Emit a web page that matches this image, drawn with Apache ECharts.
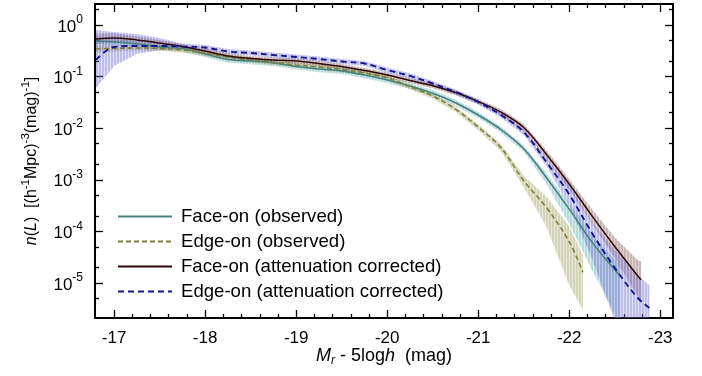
<!DOCTYPE html>
<html>
<head>
<meta charset="utf-8">
<script src="https://cdn.jsdelivr.net/npm/echarts@6/dist/echarts.min.js"></script>
<style>
  html, body { margin: 0; padding: 0; background: #fff; }
  #chart { width: 702px; height: 376px; }
</style>
</head>
<body>
<div id="chart"></div>
<script>
// r-band luminosity function, face-on vs edge-on galaxies, observed and
// attenuation corrected, each with its uncertainty band.

// magnitude grid shared by the first part of every curve
const magsCommon = [-16.8, -17.0, -17.25, -17.5, -17.75, -18.0, -18.25, -18.5, -18.75, -19.0,
  -19.25, -19.5, -19.75, -20.0, -20.25, -20.5, -20.75, -21.0, -21.25, -21.5, -21.75, -22.0];

// Face-on (observed)
const magFaceObs = magsCommon.concat([-22.25, -22.5, -22.56]);
const nFaceObs  = [0.490, 0.468, 0.429, 0.375, 0.351, 0.274, 0.214, 0.200, 0.184, 0.157, 0.140, 0.129, 0.107,
  0.0859, 0.0658, 0.0475, 0.0312, 0.0180, 0.0094, 0.0040, 0.0011, 2.7e-4, 6.2e-5, 1.8e-5, 1.38e-5];
const hiFaceObs = [0.576, 0.550, 0.492, 0.430, 0.403, 0.315, 0.246, 0.230, 0.211, 0.180, 0.161, 0.148, 0.123,
  0.0986, 0.0755, 0.0545, 0.0358, 0.0207, 0.0108, 0.0046, 1.32e-3, 3.55e-4, 8.9e-5, 2.8e-5, 2.24e-5];
const loFaceObs = [0.417, 0.398, 0.374, 0.327, 0.306, 0.239, 0.186, 0.174, 0.160, 0.137, 0.122, 0.112, 0.0932,
  0.0748, 0.0573, 0.0414, 0.0272, 0.0157, 0.0082, 0.00348, 8.3e-4, 1.41e-4, 1.78e-5, 2.5e-6, 1.0e-6];

// Edge-on (observed)
const magEdgeObs = magsCommon.concat([-22.15]);
const nEdgeObs  = [0.343, 0.351, 0.358, 0.351, 0.328, 0.281, 0.240, 0.210, 0.188, 0.168, 0.153, 0.137, 0.117,
  0.094, 0.0636, 0.042, 0.0235, 0.0105, 0.0042, 9.6e-4, 2.9e-4, 6.3e-5, 1.62e-5];
const hiEdgeObs = [0.403, 0.404, 0.402, 0.394, 0.368, 0.315, 0.269, 0.236, 0.211, 0.189, 0.172, 0.154, 0.131,
  0.105, 0.0714, 0.0471, 0.0264, 0.0121, 0.0049, 1.2e-3, 4.7e-4, 1.26e-4, 3.5e-5];
const loEdgeObs = [0.292, 0.305, 0.319, 0.313, 0.292, 0.250, 0.214, 0.187, 0.168, 0.150, 0.136, 0.122, 0.104,
  0.0838, 0.0567, 0.0374, 0.0209, 0.0091, 0.0036, 7.2e-4, 1.23e-4, 9.1e-6, 3.0e-6];

// Face-on (attenuation corrected)
const magFaceCor = magsCommon.concat([-22.25, -22.5, -22.75, -22.79]);
const nFaceCor  = [0.536, 0.560, 0.513, 0.448, 0.383, 0.313, 0.251, 0.224, 0.210, 0.200, 0.179, 0.157, 0.131,
  0.107, 0.0839, 0.0664, 0.049, 0.0328, 0.0204, 0.0103, 0.0031, 8.3e-4, 2.0e-4, 5.1e-5, 1.4e-5, 1.15e-5];
const hiFaceCor = [0.675, 0.689, 0.603, 0.514, 0.430, 0.351, 0.282, 0.251, 0.236, 0.224, 0.201, 0.176, 0.147,
  0.120, 0.0941, 0.0745, 0.0550, 0.0368, 0.0234, 0.0121, 0.00373, 1.04e-3, 2.7e-4, 7.7e-5, 2.8e-5, 2.6e-5];
const loFaceCor = [0.426, 0.455, 0.437, 0.390, 0.341, 0.279, 0.224, 0.200, 0.187, 0.178, 0.160, 0.140, 0.117,
  0.0954, 0.0748, 0.0592, 0.0437, 0.0292, 0.0178, 0.00877, 0.00252, 6.4e-4, 1.42e-4, 3.07e-5, 5.6e-6, 4.1e-6];

// Edge-on (attenuation corrected)
const magEdgeCor = magsCommon.concat([-22.25, -22.5, -22.75, -22.88]);
const nEdgeCor  = [0.210, 0.375, 0.392, 0.392, 0.383, 0.366, 0.306, 0.286, 0.262, 0.240, 0.219, 0.196, 0.179,
  0.134, 0.103, 0.0735, 0.0504, 0.0322, 0.0180, 0.00843, 0.0022, 5.2e-4, 9.3e-5, 1.97e-5, 5.2e-6, 3.3e-6];
const hiEdgeCor = [0.80, 0.73, 0.67, 0.56, 0.44, 0.41, 0.343, 0.321, 0.294, 0.269, 0.246, 0.220, 0.201,
  0.150, 0.116, 0.0825, 0.0565, 0.0361, 0.0202, 0.00967, 0.00263, 7.9e-4, 1.51e-4, 4.4e-5, 1.41e-5, 9.1e-6];
const loEdgeCor = [0.060, 0.160, 0.274, 0.328, 0.335, 0.326, 0.273, 0.255, 0.234, 0.214, 0.195, 0.175, 0.160,
  0.119, 0.0918, 0.0655, 0.0449, 0.0287, 0.0160, 0.00735, 0.00183, 3.2e-4, 3.0e-5, 1.9e-6, 3e-7, 1e-7];

// axis ranges and ticks
const X_MIN = -23.14, X_MAX = -16.79;
const Y_MIN = 2.1e-6, Y_MAX = 2.55;
const magMajorTicks = [-17, -18, -19, -20, -21, -22, -23];
const magMinorTicks = [-17.2, -17.4, -17.6, -17.8, -18.2, -18.4, -18.6, -18.8, -19.2, -19.4, -19.6, -19.8,
  -20.2, -20.4, -20.6, -20.8, -21.2, -21.4, -21.6, -21.8, -22.2, -22.4, -22.6, -22.8];
const densMajorTicks = [1e-5, 1e-4, 1e-3, 1e-2, 1e-1, 1];
const densMinorTicks = [5e-6, 2e-5, 5e-5, 2e-4, 5e-4, 2e-3, 5e-3, 0.02, 0.05, 0.2, 0.5, 2];

const seriesNames = ['Face-on (observed)', 'Edge-on (observed)',
  'Face-on (attenuation corrected)', 'Edge-on (attenuation corrected)'];

const FONT = '"Liberation Sans", Arial, Helvetica, sans-serif';

function zip2(xs, ys) { return xs.map((x, i) => [x, ys[i]]); }
function zip3(xs, lo, hi) { return xs.map((x, i) => [x, lo[i], hi[i]]); }

// fill with thin vertical light stripes, like a dense run of error bars
function stripedFill(rgb, alpha) {
  const c = document.createElement('canvas');
  c.width = 3; c.height = 4;
  const g = c.getContext('2d');
  g.fillStyle = 'rgba(' + rgb + ',' + alpha + ')';
  g.fillRect(0, 0, 2, 4);
  g.fillStyle = 'rgba(' + rgb + ',' + (alpha * 0.55) + ')';
  g.fillRect(2, 0, 1, 4);
  return { image: c, repeat: 'repeat' };
}

function magAxis(position, ticks, len, withLabels) {
  const ax = {
    type: 'value', position: position, min: X_MIN, max: X_MAX, inverse: true,
    axisLine: { show: len > 5, onZero: false, lineStyle: { color: '#000', width: 2 } },
    axisTick: { show: true, inside: true, length: len, customValues: ticks,
      lineStyle: { color: '#000', width: 1.3 } },
    axisLabel: { show: false },
    splitLine: { show: false }
  };
  if (withLabels) {
    ax.axisLabel = { show: true, customValues: magMajorTicks, margin: 12, color: '#000',
      fontSize: 17, fontFamily: FONT, formatter: v => String(Math.round(v)) };
    ax.name = '{i|M}{sub|r}{t| - 5log}{i|h}{t|  (mag)}';
    ax.nameLocation = 'middle';
    ax.nameGap = 27;
    ax.nameMoveOverlap = false;
    ax.nameTextStyle = { color: '#000', fontFamily: FONT, rich: {
      i: { fontStyle: 'italic', fontSize: 18, fontFamily: FONT, color: '#000' },
      sub: { fontStyle: 'italic', fontSize: 12, fontFamily: FONT, color: '#000', padding: [10, 0, 0, 0] },
      t: { fontSize: 18, fontFamily: FONT, color: '#000' }
    } };
  }
  return ax;
}

function densAxis(position, ticks, len, withLabels) {
  const ax = {
    type: 'log', logBase: 10, position: position, min: Y_MIN, max: Y_MAX,
    axisLine: { show: len > 5, onZero: false, lineStyle: { color: '#000', width: 2 } },
    axisTick: { show: true, inside: true, length: len, customValues: ticks,
      lineStyle: { color: '#000', width: 1.3 } },
    axisLabel: { show: false },
    splitLine: { show: false },
    minorTick: { show: false }
  };
  if (withLabels) {
    ax.axisLabel = { show: true, customValues: densMajorTicks, margin: 12, color: '#000',
      fontFamily: FONT,
      formatter: v => '{b|10}{s|' + Math.round(Math.log10(v)) + '}',
      rich: {
        b: { fontSize: 17, fontFamily: FONT, color: '#000', padding: [4, 0, 0, 0] },
        s: { fontSize: 12, fontFamily: FONT, color: '#000', padding: [0, 0, 10, 0] }
      } };
    ax.name = '{i|n}{t|(}{i|L}{t|)  [(h}{s|-1}{t|Mpc)}{s|-3}{t|(mag)}{s|-1}{t|]}';
    ax.nameLocation = 'middle';
    ax.nameRotate = 90;
    ax.nameGap = 52;
    ax.nameMoveOverlap = false;
    ax.nameTextStyle = { color: '#000', fontFamily: FONT, rich: {
      i: { fontStyle: 'italic', fontSize: 16, fontFamily: FONT, color: '#000' },
      t: { fontSize: 16, fontFamily: FONT, color: '#000' },
      s: { fontSize: 11.5, fontFamily: FONT, color: '#000', padding: [0, 0, 11, 0] }
    } };
  }
  return ax;
}

// uncertainty band: one polygon through the upper edge and back along the lower edge
function bandSeries(name, data, fill) {
  return {
    type: 'custom', name: name, data: data, clip: true, z: 1, silent: true,
    encode: { x: 0, y: [1, 2] },
    renderItem: function (params, api) {
      if (params.dataIndexInside !== 0) return null;
      const n = params.dataInsideLength;
      const upper = [], lower = [];
      for (let j = 0; j < n; j++) {
        upper.push(api.coord([api.value(0, j), api.value(2, j)]));
        lower.push(api.coord([api.value(0, j), api.value(1, j)]));
      }
      const cs = params.coordSys;
      return {
        type: 'polygon',
        shape: { points: upper.concat(lower.reverse()) },
        style: { fill: fill },
        clipPath: { type: 'rect', shape: { x: cs.x, y: cs.y, width: cs.width, height: cs.height } }
      };
    }
  };
}

function lineSeries(name, data, color, width, dash) {
  return {
    type: 'line', name: name, data: data, symbol: 'none', smooth: 0.35, z: 3,
    clip: true,
    lineStyle: { color: color, width: width, type: dash || 'solid' },
    itemStyle: { color: color }
  };
}

const chart = echarts.init(document.getElementById('chart'), null, { renderer: 'canvas' });
chart.setOption({
  animation: false,
  backgroundColor: '#fff',
  grid: { left: 95, right: 29, top: 4, bottom: 58, containLabel: false, outerBoundsMode: 'none' },
  xAxis: [
    magAxis('bottom', magMajorTicks, 8, true),
    magAxis('bottom', magMinorTicks, 4, false),
    magAxis('top', magMajorTicks, 8, false),
    magAxis('top', magMinorTicks, 4, false)
  ],
  yAxis: [
    densAxis('left', densMajorTicks, 8, true),
    densAxis('left', densMinorTicks, 4, false),
    densAxis('right', densMajorTicks, 8, false),
    densAxis('right', densMinorTicks, 4, false)
  ],
  legend: {
    data: seriesNames, orient: 'vertical', left: 117, top: 207, padding: 0,
    itemWidth: 54, itemHeight: 14, itemGap: 6.0,
    itemStyle: { color: 'rgba(0,0,0,0)', borderWidth: 0, opacity: 0 },
    textStyle: { fontSize: 18.6, fontFamily: FONT, color: '#000', padding: [0, 0, 0, 4] }
  },
  series: [
    bandSeries('faceObsBand', zip3(magFaceObs, loFaceObs, hiFaceObs), stripedFill('97,177,177', 0.45)),
    bandSeries('edgeObsBand', zip3(magEdgeObs, loEdgeObs, hiEdgeObs), stripedFill('159,159,97', 0.45)),
    bandSeries('faceCorBand', zip3(magFaceCor, loFaceCor, hiFaceCor), stripedFill('124,79,79', 0.42)),
    bandSeries('edgeCorBand', zip3(magEdgeCor, loEdgeCor, hiEdgeCor), stripedFill('113,113,209', 0.45)),
    lineSeries(seriesNames[0], zip2(magFaceObs, nFaceObs), '#46807f', 1.6),
    lineSeries(seriesNames[1], zip2(magEdgeObs, nEdgeObs), '#7f7f3a', 1.6, [5, 3]),
    lineSeries(seriesNames[2], zip2(magFaceCor, nFaceCor), '#2e0808', 1.5),
    lineSeries(seriesNames[3], zip2(magEdgeCor, nEdgeCor), '#14148c', 1.9, [6, 4])
  ]
});
</script>
</body>
</html>
